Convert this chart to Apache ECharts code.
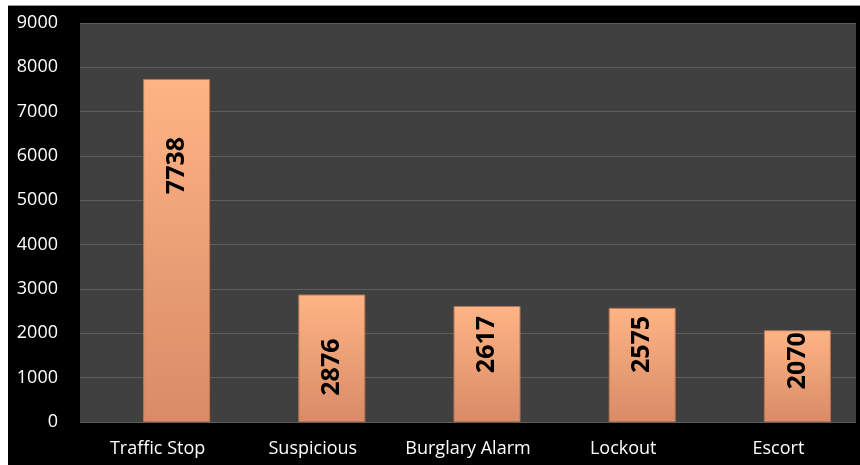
<!DOCTYPE html>
<html>
<head>
<meta charset="utf-8">
<script src="https://cdn.jsdelivr.net/npm/echarts@6/dist/echarts.min.js"></script>
<style>
  html, body { margin: 0; padding: 0; background: #ffffff; }
  #frame { position: relative; width: 860px; height: 465px; background: #ffffff; overflow: hidden; }
  #chart { position: absolute; left: 8px; top: 5px; width: 852px; height: 460px; background: #000000; border-top: 1px solid #9a9a9a; box-sizing: border-box; }
</style>
</head>
<body>
<div id="frame"><div id="chart"></div></div>
<script>
// Call types and their counts
const categories = ['Traffic Stop', 'Suspicious', 'Burglary Alarm', 'Lockout', 'Escort'];
const counts = [7738, 2876, 2617, 2575, 2070];
const yTicks = { min: 0, max: 9000, interval: 1000 };

// Distance (px) from each bar's top to where its rotated value label begins
const labelGap = [58, 44, 10, 8, 2];

const chart = echarts.init(document.getElementById('chart'), null, { renderer: 'canvas' });

const barFill = new echarts.graphic.LinearGradient(0, 0, 0, 1, [
  { offset: 0, color: '#ffb485' },
  { offset: 1, color: '#d88b66' }
]);

const option = {
  backgroundColor: '#000000',
  animation: false,
  grid: [
    // plot panel carrying the value axis, gridlines and category names
    { left: 72, right: 4, top: 17, bottom: 43, show: true, backgroundColor: '#404040', borderWidth: 0, outerBoundsMode: 'none' },
    // bar layer, drawn slightly to the right of the category slots
    { left: 91, width: 776, top: 17, bottom: 43, outerBoundsMode: 'none' }
  ],
  xAxis: [
    {
      type: 'category', gridIndex: 0, data: categories,
      axisLine: { show: false }, axisTick: { show: false },
      axisLabel: { interval: 0, color: '#ffffff', fontFamily: 'Open Sans', fontSize: 18, margin: 18 }
    },
    {
      type: 'category', gridIndex: 1, data: categories, show: false
    }
  ],
  yAxis: [
    {
      type: 'value', gridIndex: 0, min: yTicks.min, max: yTicks.max, interval: yTicks.interval,
      axisLine: { show: false }, axisTick: { show: false },
      axisLabel: { color: '#ffffff', fontFamily: 'Open Sans', fontSize: 18, margin: 22, formatter: v => String(v) },
      splitLine: { show: true, lineStyle: { color: '#5e5e5e', width: 1 } }
    },
    {
      type: 'value', gridIndex: 1, min: yTicks.min, max: yTicks.max, interval: yTicks.interval, show: false,
      splitLine: { show: false }
    }
  ],
  series: [
    {
      type: 'bar',
      xAxisIndex: 1, yAxisIndex: 1,
      barWidth: 67,
      data: counts.map((v, i) => ({
        value: v,
        label: { position: ['50%', labelGap[i]] }
      })),
      itemStyle: { color: barFill, borderColor: '#b97552', borderWidth: 1 },
      label: {
        show: true,
        rotate: 90,
        align: 'right',
        verticalAlign: 'middle',
        color: '#000000',
        fontFamily: 'Open Sans',
        fontWeight: 'bold',
        fontSize: 25
      }
    }
  ]
};

chart.setOption(option);
</script>
</body>
</html>
